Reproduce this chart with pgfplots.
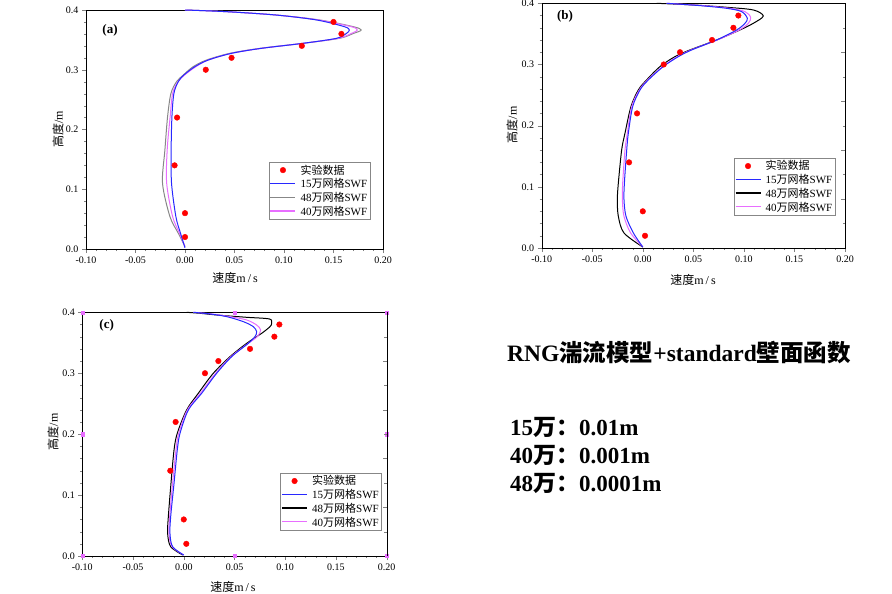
\documentclass[border=0pt]{standalone}
\usepackage{fontspec}
\setmainfont{Liberation Serif}
\newfontfamily\cjk{Noto Sans CJK SC}
\usepackage{pgfplots}
\pgfplotsset{compat=1.18}

\definecolor{cblue}{RGB}{40,40,255}
\definecolor{cpink}{RGB}{232,110,255}
\definecolor{cgray}{RGB}{135,135,135}

\pgfplotsset{
  panel/.style={
    scale only axis, clip=false,
    xmin=-0.1, xmax=0.2, ymin=0, ymax=0.4,
    xtick={-0.1,-0.05,0,0.05,0.1,0.15,0.2},
    ytick={0,0.1,0.2,0.3,0.4},
    minor x tick num=4, minor y tick num=4,
    tick align=outside, xtick pos=bottom, ytick pos=left,
    major tick length=4pt, minor tick length=2pt,
    scaled ticks=false,
    /pgf/number format/assume math mode=true,
    x tick label style={/pgf/number format/.cd,fixed,fixed zerofill,precision=2},
    y tick label style={/pgf/number format/.cd,fixed,fixed zerofill,precision=1},
    tick label style={font=\fontsize{10}{12}\selectfont},
    xlabel={{\cjk 速度}m\,/\,s},
    ylabel={{\cjk 高度}/m},
    label style={font=\fontsize{12}{12}\selectfont},
    legend cell align=left,
    legend style={anchor=north east, draw=cgray, fill=white,
      font=\fontsize{11}{11}\selectfont, inner xsep=1pt, inner ysep=1pt,
      nodes={inner sep=1.5pt},
      /tikz/every odd column/.append style={column sep=3pt}},
  },
  curve/.style={no markers, smooth, line width=1pt},
  expt/.style={only marks, mark=*, mark size=2.8pt, color=red, fill=red},
  linelegend/.style={legend image code/.code={%
    \draw[line width=1.3pt, draw=#1] (0pt,0.5pt) -- (25pt,0.5pt);}},
  dotlegend/.style={legend image code/.code={%
    \fill[red] (12.5pt,0pt) circle[radius=2.8pt];}},
}

\newcommand{\legendall}[1]{%
  \addlegendimage{dotlegend}\addlegendentry{\cjk 实验数据}
  \addlegendimage{linelegend=cblue}\addlegendentry{15{\cjk 万网格}SWF}
  \addlegendimage{linelegend=#1}\addlegendentry{48{\cjk 万网格}SWF}
  \addlegendimage{linelegend=cpink}\addlegendentry{40{\cjk 万网格}SWF}}

\begin{document}
\begin{tikzpicture}
\path[use as bounding box] (0,0) rectangle (892pt,-594pt);

% ---------- (a)
\begin{axis}[panel, at={(86pt,-249pt)}, anchor=south west,
  width=297pt, height=239pt,
  legend style={at={(0.956,0.364)}},
  xlabel style={at={(axis description cs:0.502,-0.121)}, anchor=center},
  ylabel style={at={(axis description cs:-0.094,0.5)}, anchor=center}]
\legendall{cgray}
\addplot[curve, draw=cgray] coordinates {
(0,0.004) (-0.0067,0.0262) (-0.0152,0.0541) (-0.0227,0.1099) (-0.0203,0.1657)
(-0.0176,0.2215) (-0.0142,0.2605) (-0.0085,0.2801) (-0.0017,0.2912) (0.0083,0.3052)
(0.0218,0.3163) (0.0453,0.3275) (0.0756,0.3358) (0.119,0.3442) (0.156,0.3526)
(0.170,0.3607) (0.178,0.3665) (0.170,0.3721) (0.136,0.3833) (0.092,0.3916)
(0.042,0.3972) (0.0016,0.4)};
\addplot[curve, draw=cpink] coordinates {
(0,0.004) (-0.0055,0.0262) (-0.0125,0.0541) (-0.0185,0.1099) (-0.018,0.1657)
(-0.015,0.2215) (-0.0125,0.2605) (-0.007,0.2801) (-0.0005,0.2912) (0.011,0.3052)
(0.0235,0.3163) (0.047,0.3275) (0.077,0.3358) (0.119,0.3442) (0.155,0.3526)
(0.168,0.3607) (0.174,0.3665) (0.168,0.3721) (0.135,0.3833) (0.092,0.3916)
(0.042,0.3972) (0,0.4)};
\addplot[curve, draw=cblue] coordinates {
(0,0.002) (-0.0045,0.0262) (-0.0092,0.0541) (-0.0136,0.1099) (-0.0140,0.1657)
(-0.0132,0.2215) (-0.0112,0.2605) (-0.0068,0.2801) (-0.0011,0.2912) (0.0100,0.3052)
(0.0235,0.3163) (0.0470,0.3275) (0.0770,0.3358) (0.1190,0.3442) (0.1530,0.3526)
(0.1630,0.3607) (0.1660,0.3665) (0.1610,0.3721) (0.1330,0.3833) (0.0920,0.3916)
(0.0420,0.3972) (0.0000,0.4000)};
\addplot[expt] coordinates {
(0.150,0.38) (0.158,0.36) (0.118,0.34) (0.047,0.32) (0.021,0.30)
(-0.008,0.22) (-0.0105,0.14) (0.0,0.06) (0.0,0.02)};
\node[font=\fontsize{13}{13}\selectfont\bfseries] at (rel axis cs:0.081,0.916) {(a)};
\end{axis}

% ---------- (b)
\begin{axis}[panel, at={(541.7pt,-248pt)}, anchor=south west,
  width=303.3pt, height=244.7pt,
  legend style={at={(0.967,0.368)}},
  xlabel style={at={(axis description cs:0.499,-0.131)}, anchor=center},
  ylabel style={at={(axis description cs:-0.098,0.503)}, anchor=center}]
\legendall{black}
\addplot[curve, draw=black] coordinates {
(0,0.0016) (-0.0186,0.0245) (-0.0242,0.0517) (-0.0252,0.0789) (-0.0242,0.1061)
(-0.0209,0.1605) (-0.0176,0.1878) (-0.0117,0.2313) (-0.0044,0.2585) (0.0038,0.2748)
(0.017,0.2966) (0.0319,0.3129) (0.0467,0.3238) (0.0731,0.3401) (0.0962,0.3565)
(0.1093,0.3673) (0.1192,0.3793) (0.1093,0.3891) (0.083,0.3935) (0.05,0.3973)
(0.0137,0.4)};
\addplot[curve, draw=cpink] coordinates {
(0,0.0016) (-0.012,0.0245) (-0.0186,0.0517) (-0.0202,0.0789) (-0.0199,0.1061)
(-0.0176,0.1605) (-0.0153,0.1878) (-0.011,0.2313) (-0.0034,0.2585) (0.0048,0.2748)
(0.0197,0.2966) (0.0342,0.3129) (0.0477,0.3238) (0.0737,0.3401) (0.0955,0.3565)
(0.1044,0.3673) (0.1067,0.3771) (0.1011,0.3864) (0.0863,0.3918) (0.06,0.3962)
(0.0236,0.4)};
\addplot[curve, draw=cblue] coordinates {
(0,0.0016) (-0.0093,0.0245) (-0.0166,0.0517) (-0.0186,0.0789) (-0.0182,0.1061)
(-0.0159,0.1605) (-0.0143,0.1878) (-0.010,0.2313) (-0.0027,0.2585) (0.0055,0.2748)
(0.0203,0.2966) (0.0352,0.3129) (0.0484,0.3238) (0.0731,0.3401) (0.0929,0.3565)
(0.1011,0.3673) (0.1034,0.3755) (0.0978,0.3864) (0.083,0.3918) (0.0566,0.3962)
(0.0236,0.4)};
\addplot[expt] coordinates {
(0.0945,0.38) (0.0896,0.36) (0.0685,0.34) (0.0368,0.32) (0.0207,0.30)
(-0.0057,0.22) (-0.0136,0.14) (0.0,0.06) (0.0022,0.02)};
\node[font=\fontsize{13}{13}\selectfont\bfseries] at (rel axis cs:0.077,0.948) {(b)};
\end{axis}
\begin{axis}[scale only axis, at={(541.7pt,-248pt)}, anchor=south west,
  width=303.3pt, height=244.7pt, xmin=-0.1, xmax=0.2, ymin=0, ymax=0.4,
  axis x line=none, axis y line*=right, axis line style={-},
  ytick={0.08,0.16,0.24,0.32}, minor ytick={0.04,0.12,0.2,0.28,0.36},
  yticklabels={}, tick align=inside, major tick length=4pt, minor tick length=2.5pt]
\end{axis}

% ---------- (c)
\begin{axis}[panel, at={(82.3pt,-556pt)}, anchor=south west,
  width=304.4pt, height=243.7pt,
  legend style={at={(0.983,0.341)}},
  xlabel style={at={(axis description cs:0.495,-0.127)}, anchor=center},
  ylabel style={at={(axis description cs:-0.096,0.509)}, anchor=center}]
\legendall{black}
\addplot[curve, draw=black] coordinates {
(-0.001,0.0016) (-0.0129,0.0153) (-0.0159,0.0372) (-0.0152,0.0646) (-0.0126,0.1193)
(-0.0096,0.174) (-0.0064,0.2014) (0.0028,0.2397) (0.0143,0.267) (0.0291,0.2999)
(0.0456,0.3272) (0.062,0.3491) (0.0768,0.3655) (0.085,0.3765) (0.0866,0.3819)
(0.0843,0.3891) (0.062,0.3918) (0.0324,0.3956) (0.016,0.3984) (0.0028,0.4)};
\addplot[curve, draw=cpink] coordinates {
(0,0.0016) (-0.0116,0.0153) (-0.0146,0.0372) (-0.0139,0.0646) (-0.011,0.1193)
(-0.0077,0.174) (-0.005,0.2014) (0.0035,0.2397) (0.0163,0.267) (0.0314,0.2999)
(0.0465,0.3272) (0.0636,0.3491) (0.0725,0.3601) (0.0758,0.371) (0.0718,0.3792)
(0.062,0.3874) (0.0456,0.3929) (0.0275,0.3973) (0.0095,0.4)};
\addplot[curve, draw=cblue] coordinates {
(0,0.0016) (-0.011,0.0153) (-0.0136,0.0372) (-0.0129,0.0646) (-0.0096,0.1193)
(-0.0064,0.174) (-0.0037,0.2014) (0.0045,0.2397) (0.0176,0.267) (0.0324,0.2999)
(0.0472,0.3272) (0.0636,0.3491) (0.0702,0.3601) (0.0718,0.3683) (0.0685,0.3765)
(0.0587,0.3847) (0.0423,0.3929) (0.0259,0.3973) (0.0095,0.4)};
\addplot[expt] coordinates {
(0.0942,0.38) (0.0893,0.36) (0.0653,0.34) (0.0341,0.32) (0.0209,0.30)
(-0.008,0.22) (-0.0133,0.14) (0.0,0.06) (0.0025,0.02)};
\addplot[only marks, mark=square*, mark size=1.6pt, color=cpink, forget plot] coordinates {
(-0.1,0.4) (0.05,0.4) (0.2,0.4) (-0.1,0.2) (0.2,0.2) (-0.1,0) (0.05,0) (0.2,0)};
\node[font=\fontsize{13}{13}\selectfont\bfseries] at (rel axis cs:0.080,0.948) {(c)};
\end{axis}
\begin{axis}[scale only axis, at={(82.3pt,-556pt)}, anchor=south west,
  width=304.4pt, height=243.7pt, xmin=-0.1, xmax=0.2, ymin=0, ymax=0.4,
  axis x line=none, axis y line*=right, axis line style={-},
  ytick={0.08,0.16,0.24,0.32}, minor ytick={0.04,0.12,0.2,0.28,0.36},
  yticklabels={}, tick align=inside, major tick length=4pt, minor tick length=2.5pt]
\end{axis}

% ---------- text
\node[anchor=west, inner sep=0pt, font=\fontsize{23.5}{24}\selectfont\bfseries]
  at (507pt,-353pt) {RNG{\cjk 湍流模型}+standard{\cjk 壁面函数}};
\node[anchor=west, inner sep=0pt, font=\fontsize{23}{23}\selectfont\bfseries]
  at (510pt,-427pt) {15{\cjk 万：}0.01m};
\node[anchor=west, inner sep=0pt, font=\fontsize{23}{23}\selectfont\bfseries]
  at (510pt,-455pt) {40{\cjk 万：}0.001m};
\node[anchor=west, inner sep=0pt, font=\fontsize{23}{23}\selectfont\bfseries]
  at (510pt,-483pt) {48{\cjk 万：}0.0001m};
\end{tikzpicture}
\end{document}
